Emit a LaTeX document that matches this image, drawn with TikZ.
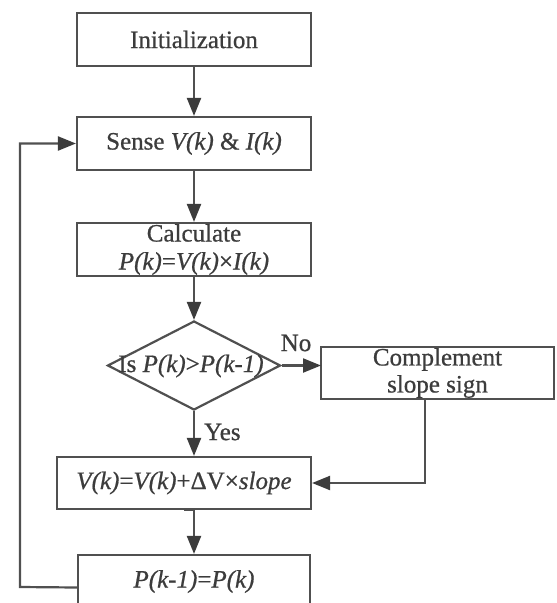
\documentclass[tikz,border=0pt]{standalone}
\usepackage{fontspec}
\setmainfont{Liberation Serif}[
  BoldFont={Liberation Serif}, BoldFeatures={FakeBold=0.7},
  BoldItalicFont={Liberation Serif Italic}, BoldItalicFeatures={FakeBold=0.7}]
\usetikzlibrary{arrows.meta,shapes.geometric}
\definecolor{ink}{HTML}{3C3C3C}
\definecolor{lne}{HTML}{505050}
\begin{document}
\begin{tikzpicture}[x=1pt,y=-1pt,
  every node/.style={font=\fontsize{25}{30}\selectfont\bfseries, text=ink},
  box/.style={draw=lne, line width=2.2pt, rectangle, inner sep=0pt, align=center},
  conn/.style={draw=lne, line width=2.2pt, -{Triangle[length=18pt,width=14pt,color=ink]}},
  lbl/.style={inner sep=0pt}]
\useasboundingbox (0,0) rectangle (557,603);
\clip (0,0) rectangle (557,603);
\fill[white] (0,0) rectangle (557,603);
\node[box, minimum width=234pt, minimum height=53pt] (init) at (194,39.5) {Initialization};
\node[box, minimum width=234pt, minimum height=53pt] (sense) at (194,143.5) {Sense \textit{V(k)} \& \textit{I(k)}};
\node[box, minimum width=234pt, minimum height=53pt] (calc) at (194,249.5) {Calculate\\[-2pt]\textit{P(k)}=\textit{V(k)}×\textit{I(k)}};
\node[draw=lne, line width=2.2pt, diamond, minimum width=173pt, minimum height=89pt, inner sep=0pt] (dia) at (194,365.5) {};
\node[lbl] (dtext) at (191,366) {Is \textit{P(k)}>\textit{P(k-1)}};
\node[box, minimum width=233pt, minimum height=52pt] (comp) at (437.5,373) {Complement\\[-3pt]slope sign};
\node[box, minimum width=254pt, minimum height=52pt] (upd) at (184,483) {\textit{V(k)}=\textit{V(k)}+ΔV×\textit{slope}};
\node[box, minimum width=232pt, minimum height=53pt] (prev) at (194,581.5) {\textit{P(k-1)}=\textit{P(k)}};
\node[lbl, anchor=west] (yes) at (204,432) {Yes};
\node[lbl] (no) at (296,343) {No};
\coordinate (fb1) at ([yshift=-6pt]prev.west);
\coordinate (fb2) at (20,587);
\coordinate (fb3) at (20,143.5);
\coordinate (cdown) at (425,399);
\coordinate (cturn) at (425,483);
\coordinate (noend) at (321,365.5);
\draw[conn] (init.south) -- (sense.north);
\draw[conn] (sense.south) -- (calc.north);
\draw[conn] (calc.south) -- (dia.north);
\draw[conn] (dia.south) -- (dia.south |- upd.north);
\draw[conn] (upd.south) -- (upd.south -| prev.north) -- (prev.north);
\draw[conn] (dia.east) -- (noend);
\draw[conn] (cdown) -- (cturn) -- (upd.east);
\draw[conn] (fb1) -- (fb2) -- (fb3) -- (sense.west);
\end{tikzpicture}
\end{document}
